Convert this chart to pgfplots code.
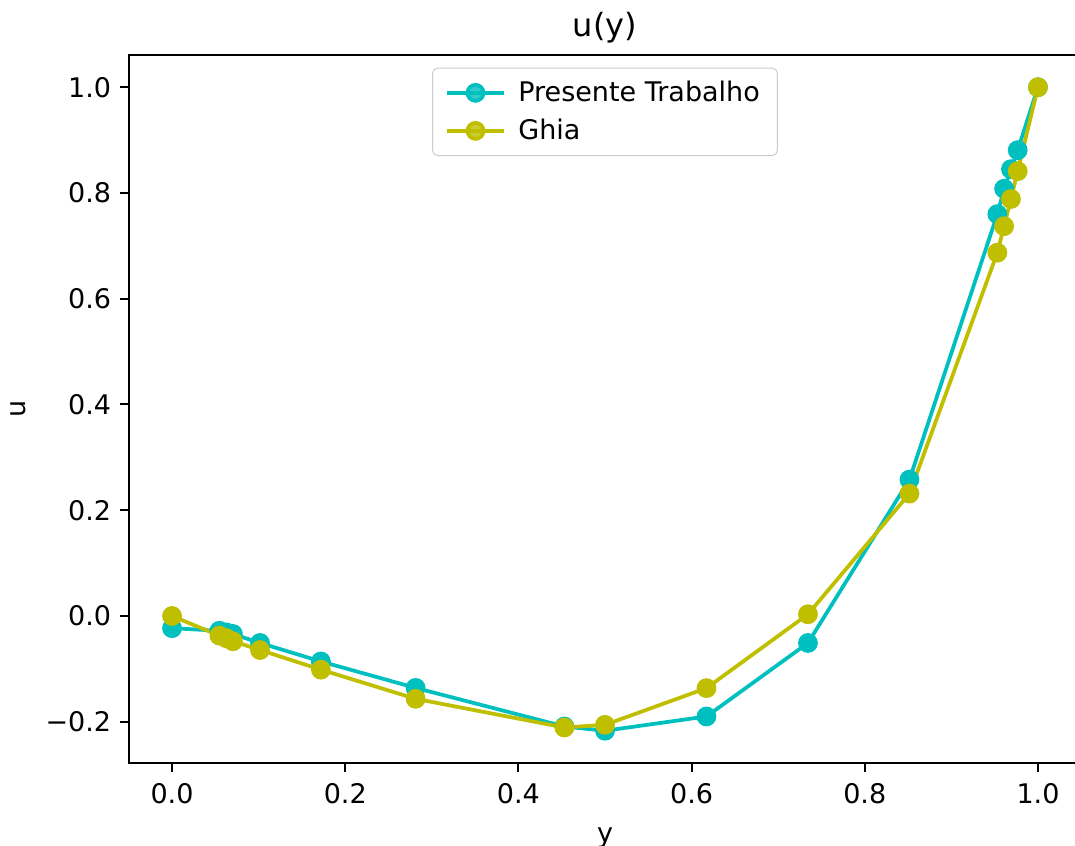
\documentclass[border=0pt]{standalone}
\usepackage{fontspec}
\setmainfont{DejaVu Sans}
\usepackage{pgfplots}
\pgfplotsset{compat=1.18}

\definecolor{mplc}{rgb}{0,0.75,0.75}
\definecolor{mply}{rgb}{0.75,0.75,0}

\begin{document}
\begin{tikzpicture}
  \begin{axis}[
    scale only axis,
    width=381pt, height=283.2pt,
    xmin=-0.05, xmax=1.05,
    ymin=-0.278, ymax=1.061,
    xtick={0,0.2,0.4,0.6,0.8,1.0},
    xticklabels={0.0,0.2,0.4,0.6,0.8,1.0},
    ytick={-0.2,0,0.2,0.4,0.6,0.8,1.0},
    yticklabels={−0.2,0.0,0.2,0.4,0.6,0.8,1.0},
    /pgf/number format/assume math mode=true,
    tick align=outside,
    tick pos=left,
    major tick length=3.5pt,
    every tick/.style={black, line width=0.8pt},
    axis line style={line width=0.8pt},
    ticklabel style={font=\fontsize{10.8}{13}\selectfont},
    xticklabel style={yshift=-1pt},
    xlabel={y}, ylabel={u},
    label style={font=\fontsize{10.8}{13}\selectfont},
    xlabel style={yshift=-3pt},
    ylabel style={yshift=1pt},
    title={u(y)},
    title style={font=\fontsize{12.8}{15}\selectfont, yshift=-5pt},
    legend style={
      at={(0.5,0.982)}, anchor=north,
      draw=black!20, rounded corners=2pt,
      fill=white, fill opacity=0.8, text opacity=1,
      font=\fontsize{10.8}{13}\selectfont,
      row sep=1.5pt, inner xsep=5pt, inner ysep=3pt,
      /tikz/every odd column/.append style={column sep=3pt},
    },
    legend cell align=left,
    legend image code/.code={
      \draw[mark repeat=2, mark phase=2] plot coordinates {(0cm,0cm) (0.4cm,0cm) (0.8cm,0cm)};
    },
  ]
    \addplot[mplc, line width=1.5pt, mark=*, mark size=3.2pt, mark options={solid, fill=mplc, draw=mplc}] coordinates {
      (0.0000,-0.023) (0.0547,-0.028) (0.0625,-0.031) (0.0703,-0.034)
      (0.1016,-0.051) (0.1719,-0.086) (0.2813,-0.136) (0.4531,-0.209)
      (0.5000,-0.217) (0.6172,-0.190) (0.7344,-0.051) (0.8516,0.258)
      (0.9531,0.760) (0.9609,0.808) (0.9688,0.845) (0.9766,0.881)
      (1.0000,1.000)
    };
    \addlegendentry{Presente Trabalho}
    \addplot[mply, line width=1.5pt, mark=*, mark size=3.2pt, mark options={solid, fill=mply, draw=mply}] coordinates {
      (0.0000,0.00000) (0.0547,-0.03717) (0.0625,-0.04192) (0.0703,-0.04775)
      (0.1016,-0.06434) (0.1719,-0.10150) (0.2813,-0.15662) (0.4531,-0.21090)
      (0.5000,-0.20581) (0.6172,-0.13641) (0.7344,0.00332) (0.8516,0.23151)
      (0.9531,0.68717) (0.9609,0.73722) (0.9688,0.78871) (0.9766,0.84123)
      (1.0000,1.00000)
    };
    \addlegendentry{Ghia}
  \end{axis}
  \pgfresetboundingbox
  \useasboundingbox ([xshift=-51.5pt,yshift=-33.2pt]current axis.south west)
    rectangle ([xshift=-2.5pt,yshift=22pt]current axis.north east);
\end{tikzpicture}
\end{document}
